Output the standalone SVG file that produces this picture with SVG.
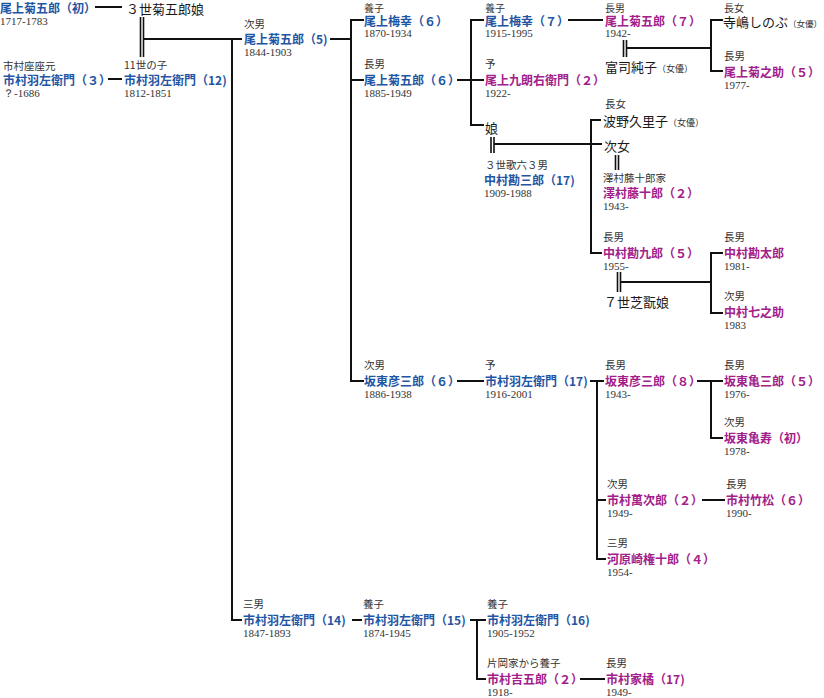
<svg xmlns="http://www.w3.org/2000/svg" width="824" height="698" viewBox="0 0 824 698">
<style>
text{font-family:"Noto Sans CJK JP","Noto Sans",sans-serif}
.nm{font-size:12px;font-weight:bold}
.b{fill:#1f55a3}
.m{fill:#a2208a}
.k{font-size:13px;fill:#1a1a1a}
.s{font-size:9px;fill:#333}
.l{font-size:10.5px;fill:#333}
.t{font-size:10px}
.y{font-family:"Liberation Serif",serif;font-size:11px;fill:#333}
.ln{stroke:#111;stroke-width:2;fill:none}
.dl{stroke:#111;stroke-width:1.6;fill:none}
</style>
<rect width="824" height="698" fill="#fff"/>
<g id="connectors">
<path class="ln" d="M95,7H122"/>
<path class="dl" d="M140.5,17V57M143.5,17V57"/>
<path class="ln" d="M143,39H242M232,38V621M231,620H242"/>
<path class="ln" d="M108,79H122"/>
<path class="ln" d="M330,39H351M351,19V382M350,20H364M351,80H364M350,381H364"/>
<path class="ln" d="M457,80H471M471,19V126M470,20H484M471,80H484M470,125H484"/>
<path class="dl" d="M491,137V153M494,137V153"/>
<path class="ln" d="M494,144H602"/>
<path class="ln" d="M568,20H603"/>
<path class="dl" d="M623.5,40V57M626.5,40V57"/>
<path class="ln" d="M626,48H711M711,19V72M710,20H723M710,71H723"/>
<path class="ln" d="M591,119V254M590,120H601M590,253H602"/>
<path class="dl" d="M615.5,155V170M618.5,155V170"/>
<path class="dl" d="M617.5,272V292M620.5,272V292"/>
<path class="ln" d="M620,282H711M711,252V314M710,253H723M710,313H723"/>
<path class="ln" d="M457,381H484"/>
<path class="ln" d="M590,381H604M597,380V560M596,500H606M596,559H606"/>
<path class="ln" d="M697,381H723M711,380V439M710,438H723"/>
<path class="ln" d="M702,500H725"/>
<path class="ln" d="M352,620H362"/>
<path class="ln" d="M470,620H486M477,619V680M476,679H486"/>
<path class="ln" d="M580,679H605"/>
</g>
<g id="n-kikugoro1"><text class="nm b" x="0" y="13">尾上菊五郎（初）</text><text class="y" x="0" y="25">1717-1783</text></g>
<g id="n-kikugoro-musume"><text class="k" x="126" y="14">３世菊五郎娘</text></g>
<g id="n-uzaemon3"><text class="l" x="3" y="70">市村座座元</text><text class="nm b" x="3" y="85">市村羽左衛門（３）</text><text class="y" x="3" y="97">？-1686</text></g>
<g id="n-uzaemon12"><text class="l" x="124" y="69">11世の子</text><text class="nm b" x="124" y="85">市村羽左衛門（12)</text><text class="y" x="124" y="97">1812-1851</text></g>
<g id="n-kikugoro5"><text class="l" x="244" y="28">次男</text><text class="nm b" x="244" y="44">尾上菊五郎（5)</text><text class="y" x="244" y="56">1844-1903</text></g>
<g id="n-baiko6"><text class="l t" x="364" y="11.5">養子</text><text class="nm b" x="364" y="25.5">尾上梅幸（６）</text><text class="y" x="364" y="37">1870-1934</text></g>
<g id="n-kikugoro6"><text class="l" x="364" y="68">長男</text><text class="nm b" x="364" y="85">尾上菊五郎（６）</text><text class="y" x="364" y="97">1885-1949</text></g>
<g id="n-baiko7"><text class="l t" x="485" y="11.5">養子</text><text class="nm b" x="485" y="25.5">尾上梅幸（７）</text><text class="y" x="485" y="37">1915-1995</text></g>
<g id="n-kuroemon2"><text class="l" x="485" y="68">予</text><text class="nm m" x="485" y="85">尾上九朗右衛門（２）</text><text class="y" x="485" y="97">1922-</text></g>
<g id="n-musume"><text class="k" x="485" y="133">娘</text></g>
<g id="n-kanzaburo17"><text class="l" x="485" y="169">３世歌六３男</text><text class="nm b" x="484" y="185">中村勘三郎（17)</text><text class="y" x="484" y="197">1909-1988</text></g>
<g id="n-kikugoro7"><text class="l t" x="605" y="11.5">長男</text><text class="nm m" x="605" y="25.5">尾上菊五郎（７）</text><text class="y" x="605" y="37">1942-</text></g>
<g id="n-fuji"><text class="k" x="605" y="72">富司純子<tspan class="s">（女優）</tspan></text></g>
<g id="n-shinobu"><text class="l t" x="724" y="11.5">長女</text><text class="k" x="723" y="26.5">寺嶋しのぶ<tspan class="s" style="font-size:8.5px">（女優）</tspan></text></g>
<g id="n-kikunosuke5"><text class="l" x="724" y="60">長男</text><text class="nm m" x="724" y="76.5">尾上菊之助（５）</text><text class="y" x="724" y="88.5">1977-</text></g>
<g id="n-kuriko"><text class="l" x="605" y="108">長女</text><text class="k" x="603" y="126">波野久里子<tspan class="s">（女優）</tspan></text></g>
<g id="n-jijo"><text class="k" x="604" y="151">次女</text></g>
<g id="n-tojuro2"><text class="l" x="603" y="182">澤村藤十郎家</text><text class="nm m" x="603" y="198">澤村藤十郎（２）</text><text class="y" x="603" y="210">1943-</text></g>
<g id="n-kankuro5"><text class="l" x="603" y="241">長男</text><text class="nm m" x="603" y="258">中村勘九郎（５）</text><text class="y" x="603" y="270">1955-</text></g>
<g id="n-shikan-musume"><text class="k" x="604" y="307">７世芝翫娘</text></g>
<g id="n-kantaro"><text class="l" x="724" y="241">長男</text><text class="nm m" x="724" y="258">中村勘太郎</text><text class="y" x="724" y="270">1981-</text></g>
<g id="n-shichinosuke"><text class="l" x="724" y="300">次男</text><text class="nm m" x="724" y="317">中村七之助</text><text class="y" x="724" y="329">1983</text></g>
<g id="n-hikosaburo6"><text class="l" x="364" y="369">次男</text><text class="nm b" x="364" y="386">坂東彦三郎（６）</text><text class="y" x="364" y="398">1886-1938</text></g>
<g id="n-uzaemon17"><text class="l" x="485" y="369">予</text><text class="nm b" x="485" y="386">市村羽左衛門（17)</text><text class="y" x="485" y="398">1916-2001</text></g>
<g id="n-hikosaburo8"><text class="l" x="605" y="369">長男</text><text class="nm m" x="605" y="386">坂東彦三郎（８）</text><text class="y" x="605" y="398">1943-</text></g>
<g id="n-kamesaburo5"><text class="l" x="724" y="369">長男</text><text class="nm m" x="724" y="386">坂東亀三郎（５）</text><text class="y" x="724" y="398">1976-</text></g>
<g id="n-kamejyu"><text class="l" x="724" y="426">次男</text><text class="nm m" x="724" y="443">坂東亀寿（初）</text><text class="y" x="724" y="455">1978-</text></g>
<g id="n-manjiro2"><text class="l" x="607" y="488">次男</text><text class="nm m" x="607" y="505">市村萬次郎（２）</text><text class="y" x="607" y="517">1949-</text></g>
<g id="n-takematsu6"><text class="l" x="726" y="488">長男</text><text class="nm m" x="726" y="505">市村竹松（６）</text><text class="y" x="726" y="517">1990-</text></g>
<g id="n-gonjuro4"><text class="l" x="607" y="547">三男</text><text class="nm m" x="607" y="564">河原崎権十郎（４）</text><text class="y" x="607" y="576">1954-</text></g>
<g id="n-uzaemon14"><text class="l" x="243" y="608">三男</text><text class="nm b" x="243" y="625">市村羽左衛門（14)</text><text class="y" x="243" y="637">1847-1893</text></g>
<g id="n-uzaemon15"><text class="l" x="363" y="608">養子</text><text class="nm b" x="363" y="625">市村羽左衛門（15)</text><text class="y" x="363" y="637">1874-1945</text></g>
<g id="n-uzaemon16"><text class="l" x="487" y="608">養子</text><text class="nm b" x="487" y="625">市村羽左衛門（16)</text><text class="y" x="487" y="637">1905-1952</text></g>
<g id="n-kichigoro2"><text class="l" x="487" y="667">片岡家から養子</text><text class="nm m" x="487" y="684">市村吉五郎（２）</text><text class="y" x="487" y="695.5">1918-</text></g>
<g id="n-kakitsu17"><text class="l" x="606" y="667">長男</text><text class="nm m" x="606" y="684">市村家橘（17)</text><text class="y" x="606" y="695.5">1949-</text></g>
</svg>
